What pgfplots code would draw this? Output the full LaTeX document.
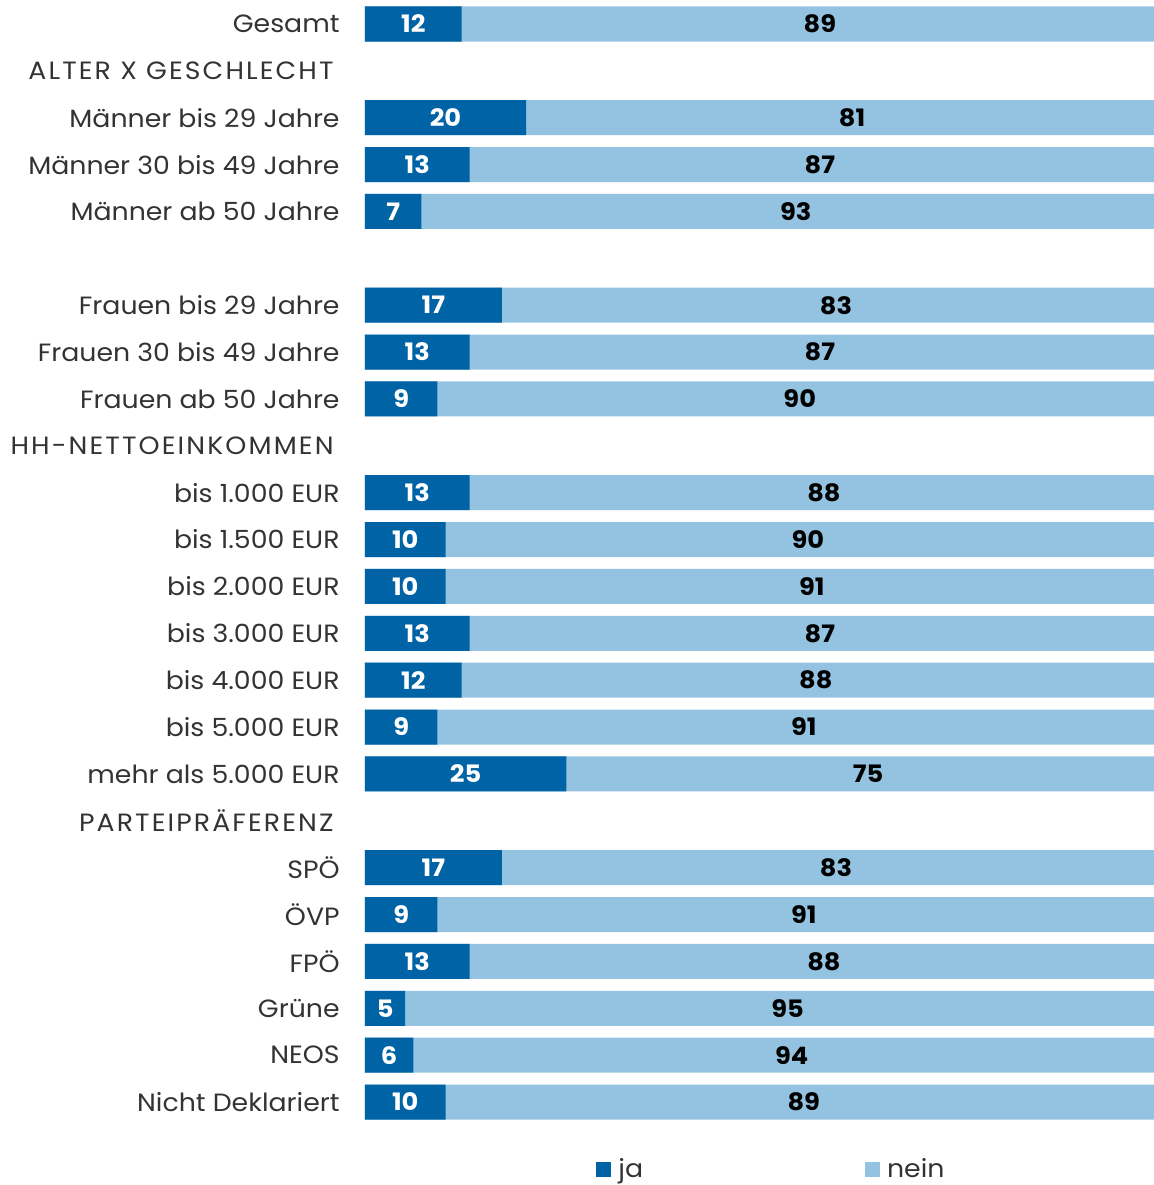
\documentclass[border=0pt]{standalone}
\usepackage{fontspec}
\setmainfont{Poppins}[FakeStretch=1.07]
\newfontfamily\hdr{Poppins}[FakeStretch=1.07, LetterSpace=8.5]
\usepackage{pgfplots}
\usepackage{pgfplotstable}
\pgfplotsset{compat=1.18}
\definecolor{jaBlue}{RGB}{0,99,166}
\definecolor{neinBlue}{RGB}{147,195,224}
\definecolor{txt}{RGB}{51,51,51}
\pgfplotstableread{
row ja nein
0 12 89
2 20 81
3 13 87
4 7 93
6 17 83
7 13 87
8 9 90
10 13 88
11 10 90
12 10 91
13 13 87
14 12 88
15 9 91
16 25 75
18 17 83
19 9 91
20 13 88
21 5 95
22 6 94
23 10 89
}\data
\begin{document}
\begin{tikzpicture}
\begin{axis}[
  scale only axis,
  width=394.5pt, height=592.5pt,
  xmin=0, xmax=98.0,
  ymin=-0.512, ymax=24.771,
  y dir=reverse,
  axis line style={draw=none},
  tick style={draw=none},
  major tick length=0pt,
  xtick=\empty,
  ytick={0,...,23},
  yticklabels={Gesamt,{\hdr ALTER X GESCHLECHT\kern3pt},M\"anner bis 29 Jahre,M\"anner 30 bis 49 Jahre,M\"anner ab 50 Jahre,{},Frauen bis 29 Jahre,Frauen 30 bis 49 Jahre,Frauen ab 50 Jahre,{\hdr HH-NETTOEINKOMMEN\kern3pt},bis 1.000 EUR,bis 1.500 EUR,bis 2.000 EUR,bis 3.000 EUR,bis 4.000 EUR,bis 5.000 EUR,mehr als 5.000 EUR,{\hdr PARTEIPR\"AFERENZ\kern3pt},SP\"O,\"OVP,FP\"O,Gr\"une,NEOS,Nicht Deklariert},
  yticklabel style={font=\fontsize{12.5}{15}\selectfont, text=txt, inner sep=0pt, xshift=-12.5pt},
  legend style={draw=none, fill=none, at={(0.2928,0.0135)}, anchor=west, inner sep=0pt,
    font=\fontsize{12.5}{15}\selectfont, text=txt,
    nodes={inner sep=0pt, anchor=west},
    /tikz/every even column/.style={column sep=111pt},
    /tikz/every odd column/.style={column sep=3.5pt}},
  legend columns=2,
  reverse legend,
]
\addplot[xbar, bar width=0.747, fill=neinBlue, draw=none,
  legend image code/.code={\fill[neinBlue] (0pt,-3.75pt) rectangle (7.5pt,3.75pt);}]
  table[x expr=\thisrow{ja}+\thisrow{nein}, y=row]{\data};
\addlegendentry{nein}
\addplot[xbar, bar width=0.747, fill=jaBlue, draw=none,
  legend image code/.code={\fill[jaBlue] (0pt,-3.75pt) rectangle (7.5pt,3.75pt);}]
  table[x=ja, y=row]{\data};
\addlegendentry{ja}
\addplot[draw=none, mark=none, forget plot, nodes near coords, point meta=explicit symbolic,
  nodes near coords style={anchor=center, text=white, font=\fontsize{12}{14}\selectfont\bfseries}]
  table[x expr=\thisrow{ja}/2, y=row, meta=ja]{\data};
\addplot[draw=none, mark=none, forget plot, nodes near coords, point meta=explicit symbolic,
  nodes near coords style={anchor=center, text=black, font=\fontsize{12}{14}\selectfont\bfseries}]
  table[x expr=\thisrow{ja}+\thisrow{nein}/2, y=row, meta=nein]{\data};
\end{axis}
\pgfresetboundingbox
\useasboundingbox (-182.5pt,0) rectangle (394.5pt,592.5pt);
\end{tikzpicture}
\end{document}
